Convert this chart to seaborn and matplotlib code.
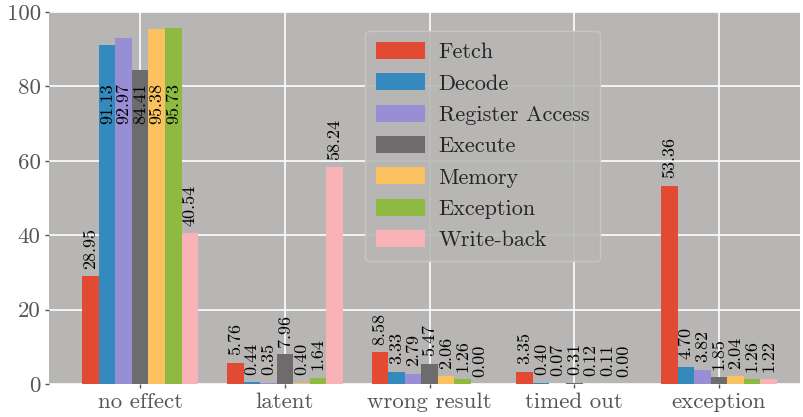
import pandas as pd
import matplotlib
matplotlib.use("Agg")
import matplotlib.pyplot as plt
import seaborn as sns

# data
categories = ['no effect', 'latent', 'wrong result', 'timed out', 'exception']
components = ['Fetch', 'Decode', 'Register Access', 'Execute', 'Memory', 'Exception', 'Write-back']
fetch = [28.95, 5.76, 8.58, 3.35, 53.36]
decode = [91.13, 0.44, 3.33, 0.40, 4.70]
register_access = [92.97, 0.35, 2.79, 0.07, 3.82]
execute = [84.41, 7.96, 5.47, 0.31, 1.85]
memory = [95.38, 0.40, 2.06, 0.12, 2.04]
exception = [95.73, 1.64, 1.26, 0.11, 1.26]
write_back = [40.54, 58.24, 0.00, 0.00, 1.22]
colors = ['#E24A33', '#348ABD', '#988ED5', '#6d6b6b', '#FBC15E', '#8EBA42', '#F9B3B7']

series = [fetch, decode, register_access, execute, memory, exception, write_back]
rows = []
for comp, vals in zip(components, series):
    for cat, v in zip(categories, vals):
        rows.append({'category': cat, 'component': comp, 'value': v})
df = pd.DataFrame(rows)

sns.set_theme(style='darkgrid')
plt.rcParams['font.family'] = ['cmr10', 'DejaVu Serif']
plt.rcParams['axes.unicode_minus'] = False
plt.rcParams['axes.facecolor'] = '#b7b6b4'
plt.rcParams['grid.color'] = 'white'
plt.rcParams['grid.linewidth'] = 1.2

fig = plt.figure(figsize=(8.04, 4.17), dpi=100)
ax = fig.add_axes([49 / 804, 1 - 384 / 417, 751 / 804, 372 / 417])

sns.barplot(data=df, x='category', y='value', hue='component', palette=colors,
            width=0.8, saturation=1, ax=ax, errorbar=None, linewidth=0)

# Beschriftung der Balken
for cont in ax.containers:
    for bar in cont:
        h = bar.get_height()
        x = bar.get_x() + bar.get_width() / 2
        ax.text(x, min(h, 68) + 2, f'{h:.2f}', rotation=90, ha='center', va='bottom',
                fontsize=13, color='black')

ax.set_ylim(0, 100)
ax.set_xlim(-0.63, 4.56)
ax.set_xlabel('')
ax.set_ylabel('')
ax.xaxis.grid(True)
ax.yaxis.grid(True)
ax.set_axisbelow(True)
ax.tick_params(axis='both', labelsize=16.5, labelcolor='#555555', color='#555555',
               length=3, width=1, direction='out', bottom=True, left=True, pad=3)
for s in ax.spines.values():
    s.set_visible(False)

leg = ax.legend(loc='upper left', bbox_to_anchor=(0.421, 0.949), borderaxespad=0,
                fontsize=16, frameon=True, handlelength=2.2, handleheight=0.8,
                labelspacing=0.5, borderpad=0.5, handletextpad=0.6)
leg.get_frame().set_facecolor('#b7b6b4')
leg.get_frame().set_edgecolor('#c9c8c6')
leg.get_frame().set_alpha(0.9)
for p in leg.get_patches():
    p.set_linewidth(0)

fig.savefig('out.png', dpi=100)
